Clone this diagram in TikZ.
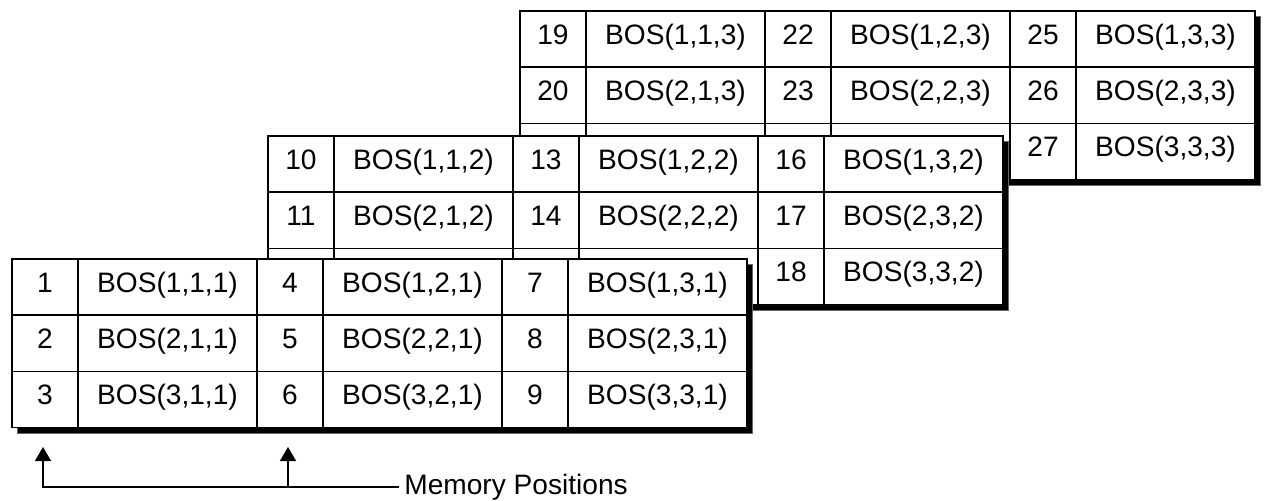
\documentclass[tikz,border=0pt]{standalone}
\usepackage{fontspec}
\setmainfont{Liberation Sans}
\usepackage{tikz}
\usetikzlibrary{positioning, arrows.meta}
\tikzstyle{numcell} = [rectangle, draw=black, fill=white, line width=0.7pt, outer sep=0pt, inner sep=0pt, minimum width=1.32cm, minimum height=1.12cm, text height=1.6ex, text depth=0.45ex, text centered, anchor=north west]
\tikzstyle{boscell} = [rectangle, draw=black, fill=white, line width=0.7pt, outer sep=0pt, inner sep=0pt, minimum width=3.58cm, minimum height=1.12cm, text height=1.6ex, text depth=0.45ex, text centered]
\tikzstyle{slab} = [fill=black, draw=black!60, line width=0.3pt]
\tikzstyle{arrow} = [thick, -{Triangle[length=0.28cm, width=0.32cm]}]

\begin{document}
\begin{tikzpicture}[x=0.02cm, y=-0.02cm, font=\fontsize{16}{19}\selectfont]
	\useasboundingbox (0,0) rectangle (1270,500);
	
	% three layers, back to front
	\foreach \k/\ox/\oy in {3/520/11, 2/268/136, 1/12/259} {
		\fill[slab] ({\ox+5},{\oy+5}) rectangle ++(735,169);
		\foreach \j in {1,2,3} {
			\foreach \i in {1,2,3} {
				\pgfmathtruncatemacro{\n}{(\k-1)*9+(\j-1)*3+\i}
				\pgfmathtruncatemacro{\hid}{and(\k>1,and(\i==3,\j<3))}
				\ifnum\hid=1
					% covered by the layer in front
					\node (n\n) [numcell] at ({\ox+(\j-1)*245},{\oy+(\i-1)*56.33}) {};
					\node (b\i\j\k) [boscell, right=0pt of n\n] {};
				\else
					\node (n\n) [numcell] at ({\ox+(\j-1)*245},{\oy+(\i-1)*56.33}) {\n};
					\node (b\i\j\k) [boscell, right=0pt of n\n] {BOS(\i,\j,\k)};
				\fi
			}
		}
	}
	
	% memory positions
	\node (mem) [anchor=west, inner sep=0pt] at (404,487) {Memory Positions};
	\coordinate (a1) at (43,447);
	\coordinate (a2) at (288,447);
	
	\draw [arrow] ([xshift=-0.1cm]mem.west) -| (a1);
	\draw [arrow] (a2 |- mem.west) -- (a2);
	
\end{tikzpicture}
\end{document}
